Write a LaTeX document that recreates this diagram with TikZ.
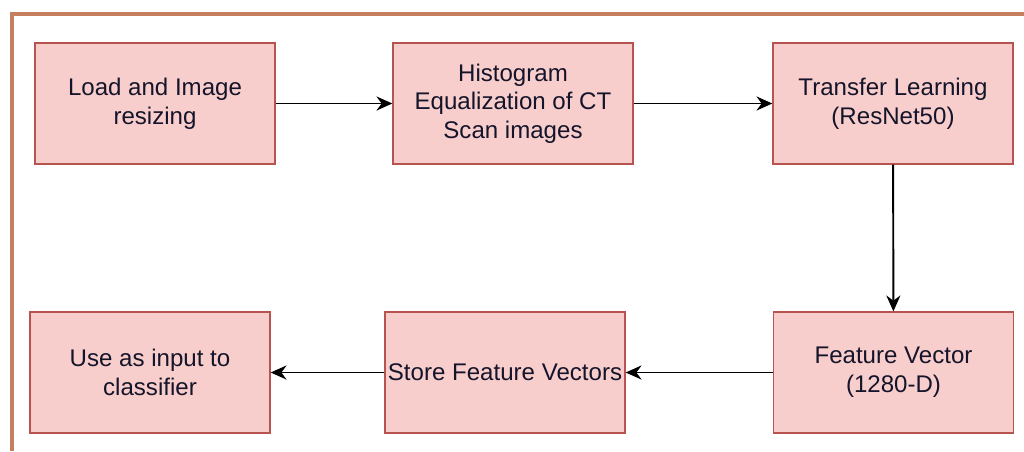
\documentclass[tikz,border=0pt]{standalone}
\usepackage{fontspec}
\setmainfont{Liberation Sans}
\usetikzlibrary{arrows.meta}
\definecolor{boxfill}{HTML}{F8CECC}
\definecolor{boxline}{HTML}{B85450}
\definecolor{frame}{RGB}{196,128,94}
\definecolor{txt}{HTML}{14142A}

\begin{document}
\begin{tikzpicture}[x=0.02cm,y=-0.02cm,
  stage/.style={rectangle, draw=boxline, fill=boxfill, line width=0.8pt,
    minimum width=4.8cm, minimum height=2.42cm, inner sep=1pt,
    align=center, text=txt, font=\fontsize{13.7}{16.3}\selectfont},
  flow/.style={-{Stealth[length=9pt,width=8pt]}, line width=1.1pt, black}]
 \useasboundingbox (0,0) rectangle (1024,451);
 % outer frame
 \draw[frame, line width=2.3pt] (12,451) -- (12,14) -- (1024,14);
 \node[stage] (load) at (155,103.5) {Load and Image\\resizing};
 \node[stage] (hist) at (513,103.5) {Histogram\\Equalization of CT\\Scan images};
 \node[stage] (tl) at (893,103.5) {Transfer Learning\\(ResNet50)};
 \node[stage] (fv) at (893.5,372.5) {Feature Vector\\(1280-D)};
 \node[stage] (store) at (505,372.5) {Store Feature Vectors};
 \node[stage] (use) at (150,372.5) {Use as input to\\classifier};
 \draw[flow] (load) -- (hist);
 \draw[flow] (hist) -- (tl);
 \draw[flow] (tl) -- (fv);
 \draw[flow] (fv) -- (store);
 \draw[flow] (store) -- (use);
\end{tikzpicture}
\end{document}
